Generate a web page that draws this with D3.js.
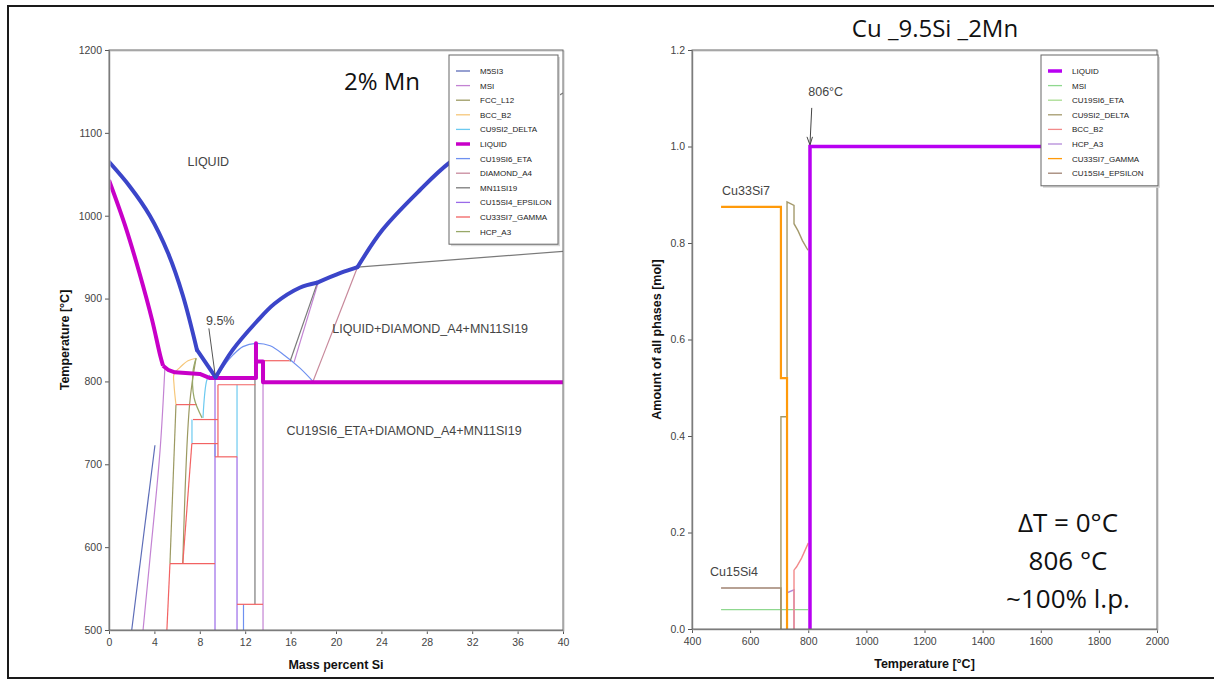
<!DOCTYPE html>
<html><head><meta charset="utf-8">
<script src="https://cdn.jsdelivr.net/npm/d3@7"></script>
<style>
body{margin:0;background:#fff}
svg{display:block}
text{font-family:"Liberation Sans",Arial,sans-serif}
</style>
</head><body>
<svg id="chart" width="1214" height="682"></svg>
<script>
// ---- left panel: isopleth, points are [mass % Si, T in °C]
const leftPhases = ['M5SI3', 'MSI', 'FCC_L12', 'BCC_B2', 'CU9SI2_DELTA', 'LIQUID', 'CU19SI6_ETA',
  'DIAMOND_A4', 'MN11SI19', 'CU15SI4_EPSILON', 'CU33SI7_GAMMA', 'HCP_A3'];
const leftXTicks = [0, 4, 8, 12, 16, 20, 24, 28, 32, 36, 40];
const leftYTicks = [500, 600, 700, 800, 900, 1000, 1100, 1200];

// liquidus (drawn thick blue), one array per smooth branch
const liquidusBranches = [
  [[0, 1065], [1.85, 1035], [3.6, 1000], [5.2, 955], [6.5, 904], [7.75, 838]],
  [[7.75, 838], [9.4, 805]],
  [[9.4, 805], [10.9, 838], [13.0, 872], [14.6, 894], [16.8, 913], [18.3, 919]],
  [[18.3, 919], [20.4, 931], [21.9, 938]],
  [[21.9, 938], [24.1, 983], [27.4, 1031], [30, 1064], [34, 1100]]
];
// solidus (LIQUID boundary, thick magenta)
const solidusBranches = [
  [[0, 1043], [1.4, 989], [2.7, 930], [3.8, 874], [4.5, 832], [4.76, 819]],
  [[4.76, 819], [5.2, 814], [5.8, 811], [8.0, 809], [8.9, 804], [12.95, 804], [12.95, 846],
    [12.95, 824], [13.57, 824], [13.57, 799], [40, 799]]
];

const m5si3Lines = [[[2.0, 500], [4.05, 723]]];
const msiLines = [[[3.0, 500], [3.6, 585], [4.5, 717], [4.93, 818]], [[16.3, 823], [18.4, 918]],
  [[13.57, 799], [13.57, 500]]];
const fccLines = [[[5.37, 580], [5.9, 772]], [[6.5, 580], [7.1, 772], [7.67, 828]]];
const bccLines = [[[5.9, 772], [5.73, 796], [5.73, 809], [6.26, 817], [6.96, 825], [7.67, 828]]];
const deltaLines = [[[8.28, 756], [8.63, 802], [8.9, 808]], [[7.31, 754], [7.31, 725]],
  [[9.34, 725], [9.34, 709]], [[11.28, 796], [11.28, 709]]];
const etaLines = [[[9.5, 805], [10.2, 820], [10.93, 832], [11.8, 842], [12.95, 846], [14.2, 843],
  [15.5, 831], [16.83, 816], [17.97, 800]], [[11.85, 531], [11.85, 500]]];
const diamondLines = [[[17.97, 800], [19.74, 862], [21.9, 938]]];
const mn11si19Lines = [[[15.95, 824], [18.33, 918]], [[21.9, 938], [40, 957]], [[12.86, 846], [12.86, 531]],
  [[34, 1100], [40, 1148]]];
const epsilonLines = [[[11.28, 709], [11.28, 500]], [[9.34, 804], [9.34, 500]]];
const gammaLines = [[[5.9, 772], [7.75, 772]], [[7.4, 754], [9.6, 754]], [[7.3, 725], [9.6, 725]],
  [[9.34, 709], [11.3, 709]], [[9.6, 796], [12.9, 796]], [[5.37, 580], [9.34, 580]],
  [[11.28, 531], [13.57, 531]], [[13.5, 825], [15.9, 825]], [[5.1, 500], [5.37, 580]],
  [[7.3, 725], [6.5, 580]], [[9.6, 796], [9.6, 709]]];
const hcpLines = [[[7.67, 828], [7.4, 812], [7.5, 780], [8.2, 756]]];

// ---- right panel: amount of phases, points are [T in °C, mol]
const rightPhases = ['LIQUID', 'MSI', 'CU19SI6_ETA', 'CU9SI2_DELTA', 'BCC_B2', 'HCP_A3',
  'CU33SI7_GAMMA', 'CU15SI4_EPSILON'];
const rightXTicks = [400, 600, 800, 1000, 1200, 1400, 1600, 1800, 2000];
const rightYTicks = [0, 0.2, 0.4, 0.6, 0.8, 1.0, 1.2];

const liquidAmount = [[806, 0], [806, 1.0], [2000, 1.0]];
const gammaAmount = [[500, 0.875], [706, 0.875], [706, 0.52], [727, 0.52], [727, 0]];
const deltaAmount = [[706, 0], [706, 0.44], [727, 0.44], [727, 0.885], [751, 0.878], [751, 0.84],
  [765, 0.825], [780, 0.805], [799, 0.785]];
const epsilonAmount = [[500, 0.085], [706, 0.085], [706, 0]];
const msiAmount = [[500, 0.04], [799, 0.04]];
const bccAmount = [[751, 0], [751, 0.122], [760, 0.129], [777, 0.147], [800, 0.178]];
const hcpAmount = [[727, 0], [727, 0.075], [751, 0.081], [751, 0]];

// colours
const leftColor = {
  M5SI3: '#5d6db8', MSI: '#c383d3', FCC_L12: '#9c9a62', BCC_B2: '#f6c77a', CU9SI2_DELTA: '#6ccaf0',
  LIQUID: '#c800c8', CU19SI6_ETA: '#6e90f0', DIAMOND_A4: '#c88a9c', MN11SI19: '#7a7a7a',
  CU15SI4_EPSILON: '#9a6ae8', CU33SI7_GAMMA: '#f26262', HCP_A3: '#98a868'
};
const rightColor = {
  LIQUID: '#b800f2', MSI: '#8fd88f', CU19SI6_ETA: '#a8dc90', CU9SI2_DELTA: '#a49a6c',
  BCC_B2: '#f28a8a', HCP_A3: '#b48ad8', CU33SI7_GAMMA: '#ff9a0a', CU15SI4_EPSILON: '#a08272'
};
const liquidusColor = '#3b45c9';

const svg = d3.select('#chart');

// outer frame
svg.append('rect').attr('x', 8).attr('y', 6).attr('width', 1215).attr('height', 672)
  .attr('fill', 'none').attr('stroke', '#1a1a1a').attr('stroke-width', 2);

function frame (g, x0, y0, x1, y1) {
  g.append('rect').attr('x', x0 + 1).attr('y', y0 + 1).attr('width', x1 - x0).attr('height', y1 - y0)
    .attr('fill', 'none').attr('stroke', '#c8c8c8').attr('stroke-width', 1);
  g.append('rect').attr('x', x0).attr('y', y0).attr('width', x1 - x0).attr('height', y1 - y0)
    .attr('fill', 'none').attr('stroke', '#6a6a6a').attr('stroke-width', 1);
}

function axes (g, x, y, xTicks, yTicks, yFmt, xTitle, yTitle, yTitleX) {
  const [x0, x1] = x.range();
  const [y0, y1] = y.range();
  const ax = g.append('g').attr('transform', `translate(0,${y0})`)
    .call(d3.axisBottom(x).tickValues(xTicks).tickFormat(d3.format('d')).tickSize(4).tickPadding(5).tickSizeOuter(0));
  const ay = g.append('g').attr('transform', `translate(${x0},0)`)
    .call(d3.axisLeft(y).tickValues(yTicks).tickFormat(yFmt).tickSize(4).tickPadding(3).tickSizeOuter(0));
  [ax, ay].forEach(a => {
    a.select('.domain').attr('stroke', '#555');
    a.selectAll('line').attr('stroke', '#555');
    a.selectAll('text').attr('fill', '#444').style('font-size', '10.5px');
  });
  frame(g, x0, y1, x1, y0);
  g.append('text').attr('x', (x0 + x1) / 2).attr('y', y0 + 39).attr('text-anchor', 'middle')
    .style('font-size', '12.5px').style('font-weight', 'bold').attr('fill', '#111').text(xTitle);
  g.append('text').attr('transform', `translate(${yTitleX},${(y0 + y1) / 2}) rotate(-90)`)
    .attr('text-anchor', 'middle').style('font-size', '12.5px').style('font-weight', 'bold')
    .attr('fill', '#111').text(yTitle);
}

function legend (g, x0, y0, w, names, colors, thick) {
  const h = names.length * 14.6 + 14;
  g.append('rect').attr('x', x0 + 2).attr('y', y0 + 2).attr('width', w).attr('height', h)
    .attr('fill', '#d8d8d8');
  g.append('rect').attr('x', x0).attr('y', y0).attr('width', w).attr('height', h)
    .attr('fill', '#fff').attr('stroke', '#666');
  const rows = g.selectAll('.row').data(names).enter().append('g')
    .attr('transform', (d, i) => `translate(${x0},${y0 + 16 + i * 14.6})`);
  rows.append('line').attr('x1', 7).attr('x2', 21).attr('y1', 0).attr('y2', 0)
    .attr('stroke', d => colors[d]).attr('stroke-width', d => d === thick ? 3.5 : 1.3);
  rows.append('text').attr('x', 31).attr('y', 3).style('font-size', '8px').attr('fill', '#222').text(d => d);
}

// ================= left panel
const xL = d3.scaleLinear().domain([0, 40]).range([109, 563]);
const yL = d3.scaleLinear().domain([500, 1200]).range([630, 50]);
const lineL = d3.line().x(d => xL(d[0])).y(d => yL(d[1]));
const smoothL = d3.line().x(d => xL(d[0])).y(d => yL(d[1])).curve(d3.curveCatmullRom.alpha(0.5));
const gL = svg.append('g');

svg.append('clipPath').attr('id', 'clipL').append('rect')
  .attr('x', 109).attr('y', 50).attr('width', 454).attr('height', 580);
const plotL = gL.append('g').attr('clip-path', 'url(#clipL)');

const thinSets = [
  ['M5SI3', m5si3Lines], ['MSI', msiLines], ['FCC_L12', fccLines], ['BCC_B2', bccLines],
  ['CU9SI2_DELTA', deltaLines], ['CU19SI6_ETA', etaLines], ['DIAMOND_A4', diamondLines],
  ['MN11SI19', mn11si19Lines], ['CU15SI4_EPSILON', epsilonLines], ['CU33SI7_GAMMA', gammaLines],
  ['HCP_A3', hcpLines]
];
thinSets.forEach(([phase, segs]) => {
  plotL.selectAll(null).data(segs).enter().append('path')
    .attr('d', d => d.length > 2 ? smoothL(d) : lineL(d))
    .attr('fill', 'none').attr('stroke', leftColor[phase]).attr('stroke-width', 1.2);
});

// first solidus branch is a smooth curve, the rest is stepwise
plotL.append('path').datum(solidusBranches[0]).attr('d', smoothL).attr('fill', 'none')
  .attr('stroke', leftColor.LIQUID).attr('stroke-width', 4).attr('stroke-linejoin', 'round');
plotL.append('path').datum(solidusBranches[1]).attr('d', lineL).attr('fill', 'none')
  .attr('stroke', leftColor.LIQUID).attr('stroke-width', 4).attr('stroke-linejoin', 'round');
plotL.selectAll(null).data(liquidusBranches).enter().append('path')
  .attr('d', d => d.length > 2 ? smoothL(d) : lineL(d)).attr('fill', 'none')
  .attr('stroke', liquidusColor).attr('stroke-width', 4).attr('stroke-linecap', 'round');

axes(gL, xL, yL, leftXTicks, leftYTicks, d3.format('d'), 'Mass percent Si', 'Temperature [°C]', 69);

// region labels
const labelL = [
  ['LIQUID', 8.75, 1060],
  ['LIQUID+DIAMOND_A4+MN11SI19', 28.3, 858],
  ['CU19SI6_ETA+DIAMOND_A4+MN11SI19', 26.0, 735]
];
gL.selectAll('.region').data(labelL).enter().append('text')
  .attr('x', d => xL(d[1])).attr('y', d => yL(d[2])).attr('text-anchor', 'middle')
  .style('font-size', '12.5px').attr('fill', '#444').text(d => d[0]);

// eutectic pointer
gL.append('line').attr('x1', xL(8.8)).attr('y1', yL(864)).attr('x2', xL(9.35)).attr('y2', yL(808))
  .attr('stroke', '#555').attr('stroke-width', 1);
gL.append('text').attr('x', xL(9.8)).attr('y', yL(868)).attr('text-anchor', 'middle')
  .style('font-size', '12.5px').attr('fill', '#444').text('9.5%');

legend(gL, 449, 55, 109, leftPhases, leftColor, 'LIQUID');

gL.append('text').attr('x', 382).attr('y', 90).attr('text-anchor', 'middle')
  .style('font-size', '24px').style('font-family', '"Open Sans", sans-serif').attr('fill', '#111').text('2% Mn');

// ================= right panel
const xR = d3.scaleLinear().domain([400, 2000]).range([692, 1157]);
const yR = d3.scaleLinear().domain([0, 1.2]).range([629, 50]);
const lineR = d3.line().x(d => xR(d[0])).y(d => yR(d[1]));
const gR = svg.append('g');

svg.append('clipPath').attr('id', 'clipR').append('rect')
  .attr('x', 692).attr('y', 50).attr('width', 465).attr('height', 579);
const plotR = gR.append('g').attr('clip-path', 'url(#clipR)');

const amountSets = [
  ['MSI', msiAmount, 1.2], ['CU15SI4_EPSILON', epsilonAmount, 1.6], ['CU9SI2_DELTA', deltaAmount, 1.4],
  ['HCP_A3', hcpAmount, 1.4], ['BCC_B2', bccAmount, 1.4], ['CU33SI7_GAMMA', gammaAmount, 2.2],
  ['LIQUID', liquidAmount, 3.5]
];
amountSets.forEach(([phase, pts, w]) => {
  plotR.append('path').datum(pts).attr('d', lineR).attr('fill', 'none')
    .attr('stroke', rightColor[phase]).attr('stroke-width', w);
});

axes(gR, xR, yR, rightXTicks, rightYTicks, d3.format('.1f'), 'Temperature [°C]', 'Amount of all phases [mol]', 661);

legend(gR, 1041, 55, 117, rightPhases, rightColor, 'LIQUID');

// annotations
gR.append('text').attr('x', xR(800)).attr('y', yR(1.105)).style('font-size', '12.5px')
  .attr('fill', '#444').text('806°C');
gR.append('line').attr('x1', xR(812)).attr('y1', yR(1.08)).attr('x2', xR(806)).attr('y2', yR(1.005))
  .attr('stroke', '#444').attr('stroke-width', 1);
gR.append('path').attr('d', `M${xR(806) - 3},${yR(1.02)} L${xR(806)},${yR(1.003)} L${xR(806) + 2.5},${yR(1.02)}`)
  .attr('fill', 'none').attr('stroke', '#444');
gR.append('text').attr('x', xR(500) + 1).attr('y', yR(0.9)).style('font-size', '12.5px')
  .attr('fill', '#444').text('Cu33Si7');
gR.append('text').attr('x', xR(462)).attr('y', yR(0.11)).style('font-size', '12.5px')
  .attr('fill', '#444').text('Cu15Si4');

const bigText = ['ΔT = 0°C', '806 °C', '~100% l.p.'];
gR.selectAll('.big').data(bigText).enter().append('text')
  .attr('x', 1068).attr('y', (d, i) => 532 + i * 38).attr('text-anchor', 'middle')
  .style('font-size', '26px').style('font-family', '"Open Sans", sans-serif').attr('fill', '#111').text(d => d);

svg.append('text').attr('x', 935).attr('y', 37).attr('text-anchor', 'middle')
  .style('font-size', '24px').style('font-family', '"Open Sans", sans-serif').attr('fill', '#111')
  .text('Cu _9.5Si _2Mn');
</script>
</body></html>
